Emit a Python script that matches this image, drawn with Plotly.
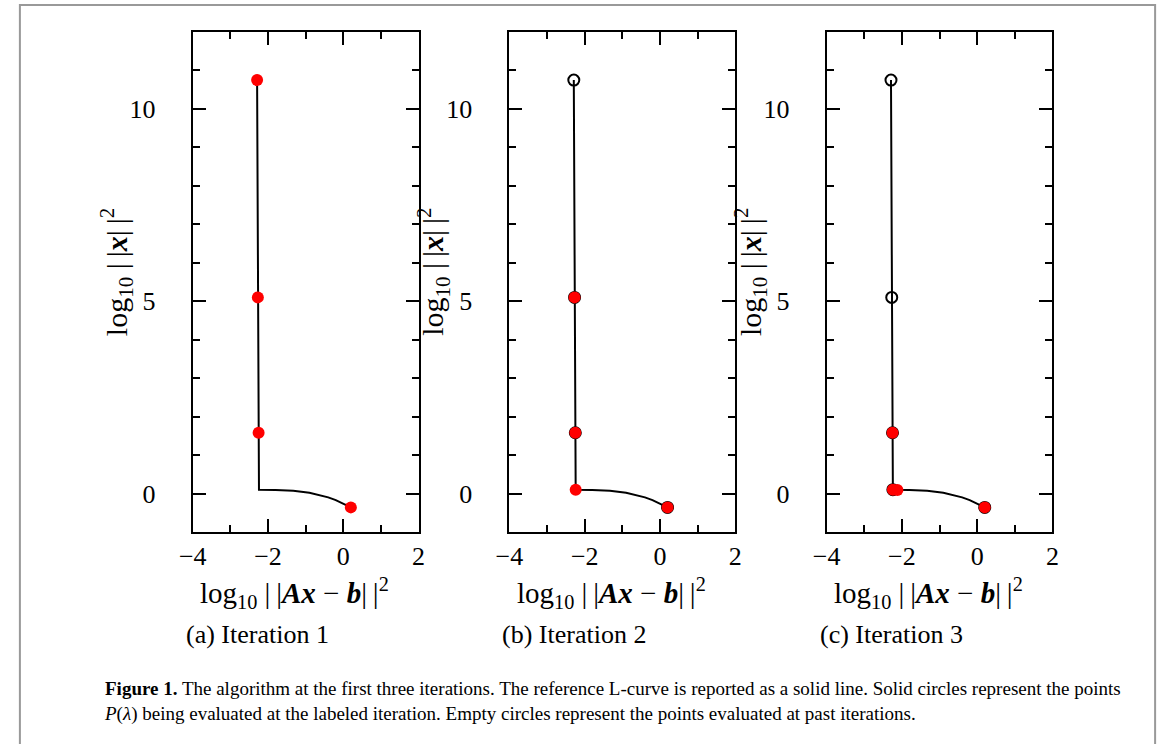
import plotly.graph_objects as go

# ---- data ----
curve_x = [-2.29, -2.27, -2.25, -2.24, -1.8, -1.33, -0.9, -0.63, -0.4, -0.2, 0.0, 0.2]
curve_y = [10.75, 5.1, 1.58, 0.1, 0.09, 0.07, 0.02, -0.04, -0.10, -0.17, -0.26, -0.36]

# iteration 1
it1_cur_x = [-2.29, -2.27, -2.25, 0.2]
it1_cur_y = [10.75, 5.1, 1.58, -0.36]
it1_past_x = []
it1_past_y = []
# iteration 2
it2_past_x = [-2.29, -2.27, -2.25, 0.2]
it2_past_y = [10.75, 5.1, 1.58, -0.36]
it2_cur_x = [-2.27, -2.25, -2.24, 0.2]
it2_cur_y = [5.1, 1.58, 0.1, -0.36]
# iteration 3
it3_past_x = [-2.29, -2.27, -2.25, -2.24, 0.2]
it3_past_y = [10.75, 5.1, 1.58, 0.1, -0.36]
it3_cur_x = [-2.25, -2.24, -2.12, 0.2]
it3_cur_y = [1.58, 0.1, 0.09, -0.36]

panels = [
    ("(a) Iteration 1", it1_past_x, it1_past_y, it1_cur_x, it1_cur_y),
    ("(b) Iteration 2", it2_past_x, it2_past_y, it2_cur_x, it2_cur_y),
    ("(c) Iteration 3", it3_past_x, it3_past_y, it3_cur_x, it3_cur_y),
]

x_ticks = [-4, -2, 0, 2]
y_ticks = [0, 5, 10]

caption_lines = [
    "<b>Figure 1.</b> The algorithm at the first three iterations. The reference L-curve is reported as a solid line. Solid circles represent the points",
    "<i>P</i>(<i>λ</i>) being evaluated at the labeled iteration. Empty circles represent the points evaluated at past iterations.",
]

W, H = 1168, 744
lefts = [182, 504.5, 827.5]
pw = 230
top_px, bot_px = 32, 532

def px(x):
    return x / W

def py(y):
    return 1 - y / H

fig = go.Figure()
serif = "Liberation Serif"
TS = "\u2009"  # thin space between the norm bars

for i, (cap, pxs, pys, cxs, cys) in enumerate(panels):
    sfx = "" if i == 0 else str(i + 1)
    xa, ya = "x" + sfx, "y" + sfx
    fig.add_trace(go.Scatter(x=curve_x, y=curve_y, mode="lines",
                             line=dict(color="black", width=2),
                             xaxis=xa, yaxis=ya, showlegend=False, hoverinfo="skip"))
    if pxs:
        fig.add_trace(go.Scatter(x=pxs, y=pys, mode="markers",
                                 marker=dict(symbol="circle-open", size=11, color="black",
                                             line=dict(width=2, color="black")),
                                 xaxis=xa, yaxis=ya, showlegend=False))
    fig.add_trace(go.Scatter(x=cxs, y=cys, mode="markers",
                             marker=dict(symbol="circle", size=12, color="#ff0000",
                                         line=dict(width=0)),
                             xaxis=xa, yaxis=ya, showlegend=False))

    l = lefts[i]
    axcommon = dict(showline=True, linewidth=2, linecolor="black", mirror="allticks",
                    ticks="inside", ticklen=13, tickwidth=2, tickcolor="black",
                    showgrid=False, zeroline=False,
                    tickfont=dict(family=serif, size=26, color="black"),
                    minor=dict(ticks="inside", ticklen=7, tickwidth=2, tickcolor="black",
                               dtick=1, showgrid=False))
    fig.update_layout(**{
        ("xaxis" + sfx): dict(domain=[px(l), px(l + pw)], range=[-4, 2],
                              tickvals=x_ticks, anchor=ya, ticklabelstandoff=0,
                              **axcommon),
        ("yaxis" + sfx): dict(domain=[py(bot_px), py(top_px)], range=[-1, 12],
                              tickvals=y_ticks, anchor=xa, ticklabelstandoff=30,
                              **axcommon),
    })

    # axis titles
    fig.add_annotation(x=px(l + pw / 2 - 11), y=py(593), xref="paper", yref="paper",
                       text=f"log<sub>10</sub> |{TS}|<b><i>Ax</i></b> − <b><i>b</i></b>|{TS}|<sup>2</sup>",
                       showarrow=False, font=dict(family=serif, size=29, color="black"),
                       xanchor="center", yanchor="middle")
    fig.add_annotation(x=px(l - 78), y=py(272), xref="paper", yref="paper",
                       text=f"log<sub>10</sub> |{TS}|<b><i>x</i></b>|{TS}|<sup>2</sup>",
                       textangle=-90, showarrow=False,
                       font=dict(family=serif, size=30, color="black"),
                       xanchor="center", yanchor="middle")
    fig.add_annotation(x=px(l + 66), y=py(634), xref="paper", yref="paper",
                       text=cap, showarrow=False,
                       font=dict(family=serif, size=26, color="black"),
                       xanchor="center", yanchor="middle")

# caption (one block, left aligned)
fig.add_annotation(x=px(90), y=py(701), xref="paper", yref="paper",
                   text="<br>".join(caption_lines),
                   showarrow=False, font=dict(family=serif, size=19, color="black"),
                   xanchor="left", yanchor="middle", align="left")

# outer frame
fig.add_shape(type="rect", xref="paper", yref="paper",
              x0=px(6), x1=px(1162), y0=py(760), y1=py(5),
              line=dict(color="#999999", width=2))

fig.update_layout(width=W, height=H, margin=dict(l=0, r=0, t=0, b=0),
                  plot_bgcolor="white", paper_bgcolor="white", showlegend=False)

fig.write_html("out.html", config={"displayModeBar": False},
               post_script="document.body.style.margin='0';document.body.style.overflow='hidden';")
